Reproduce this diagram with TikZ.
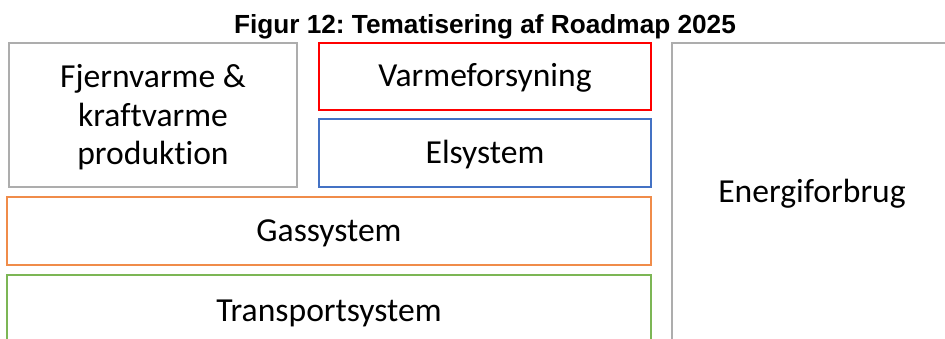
\documentclass[tikz,border=0pt]{standalone}
\usepackage{fontspec}
\setmainfont{Carlito}[Ligatures=NoCommon]
\newfontfamily\titlefont{Liberation Sans}
\definecolor{bxgray}{HTML}{ADADAD}
\definecolor{bxred}{HTML}{FF0000}
\definecolor{bxblue}{HTML}{4472C4}
\definecolor{bxorange}{HTML}{F08C4A}
\definecolor{bxgreen}{HTML}{7CB655}
\frenchspacing
\begin{document}
\begin{tikzpicture}[x=1pt,y=-1pt,
  box/.style={draw, line width=1.6pt, rectangle, inner sep=0pt, align=center,
    font=\fontsize{33.6}{38.5}\selectfont},
  oneline/.style={box, text height=20pt, text depth=0pt}]
\useasboundingbox (0,0) rectangle (945,338);
\clip (0,0) rectangle (945,338);
\node[font=\titlefont\fontsize{26.2}{30}\selectfont\bfseries] (title) at (485,27) {Figur 12: Tematisering af Roadmap 2025};
\node[box, draw=bxgray, minimum width=288pt, minimum height=144pt] (fjv) at (153,115) {};
\node (fjvtext) at (fjv.center) [yshift=-2.5pt, align=center, inner sep=0pt, font=\fontsize{33.6}{38.5}\selectfont] {Fjernvarme \&\\kraftvarme\\produktion};
\node[oneline, draw=bxred, minimum width=332pt, minimum height=67pt] (varme) at (485,76.5) {Varmeforsyning};
\node[oneline, draw=bxblue, minimum width=332pt, minimum height=68pt] (el) at (485,153) {Elsystem};
\node[oneline, draw=bxorange, minimum width=644pt, minimum height=68pt] (gas) at (329,231) {Gassystem};
\node[oneline, draw=bxgreen, minimum width=644pt, minimum height=72pt] (trans) at (329,311) {Transportsystem};
\node[oneline, draw=bxgray, minimum width=280pt, minimum height=298pt] (energi) at (812,192) {Energiforbrug};
\end{tikzpicture}
\end{document}
